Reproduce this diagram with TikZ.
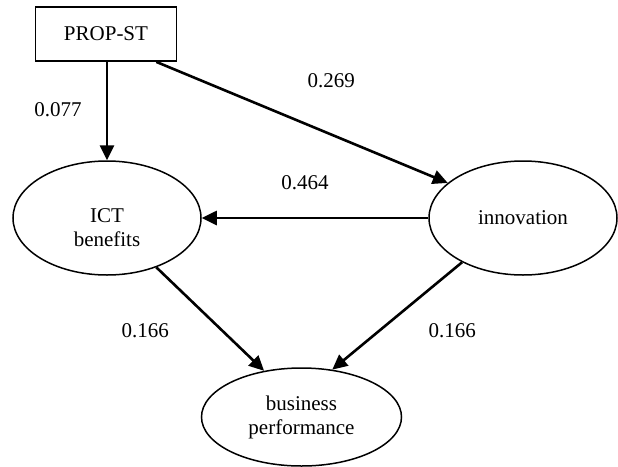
\documentclass[tikz,border=0pt]{standalone}
\usepackage{fontspec}
\setmainfont{Liberation Serif}
\usetikzlibrary{arrows.meta,shapes.geometric}

\begin{document}
\begin{tikzpicture}[
    x=1pt, y=-1pt,
    font=\fontsize{21}{24}\selectfont,
    obs/.style={rectangle, draw, line width=1.8pt, minimum width=141pt, minimum height=54pt, inner sep=0pt},
    latent/.style={ellipse, draw, line width=1.5pt, align=center, inner sep=0pt},
    lbl/.style={inner sep=0pt},
    arrow/.style={-{Triangle[length=15pt,width=14pt]}, line width=2.6pt}
  ]
  \useasboundingbox (0,0) rectangle (618,466);

  % --- constructs ---
  \node[obs] (prop) at (106,34) {PROP-ST};
  \node[latent, minimum width=188pt, minimum height=114pt, text height=57pt] (ict) at (107,218) {ICT\\benefits};
  \node[latent, minimum width=188pt, minimum height=114pt] (inno) at (523,218) {innovation};
  \node[latent, minimum width=200pt, minimum height=98pt] (biz) at (301.5,417) {business\\performance};

  % --- paths ---
  \draw[arrow] (prop.south -| ict.north) -- node[lbl, pos=0.49, xshift=-49pt] (w077) {0.077} (ict.north);
  \draw[arrow] (prop.-29) -- node[lbl, pos=0.6, yshift=54pt] (w269) {0.269} (inno.155);
  \draw[arrow] (inno.west) -- node[lbl, pos=0.544, yshift=35pt] (w464) {0.464} (ict.east);
  \draw[arrow] (ict.-45) -- node[lbl, xshift=-65pt, yshift=-12pt] (w166a) {0.166} (biz.129);
  \draw[arrow] (inno.216) -- node[lbl, xshift=55pt, yshift=-15pt] (w166b) {0.166} (biz.57);
\end{tikzpicture}
\end{document}
